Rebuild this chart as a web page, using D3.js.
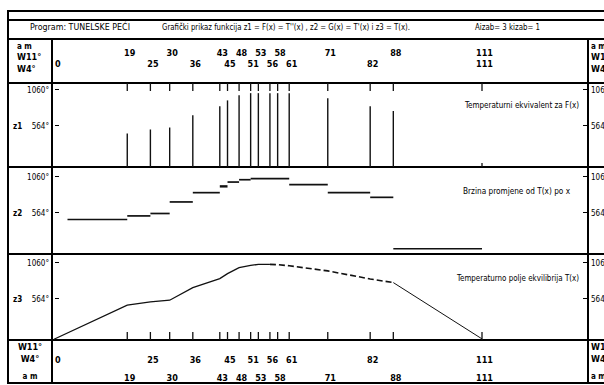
<!DOCTYPE html>
<html lang="hr">
<head>
<meta charset="utf-8">
<title>Program: TUNELSKE PEĆI</title>
<style>
  body { margin: 0; background: #fff; }
  svg { display: block; font-family: "Liberation Sans Narrow", "DejaVu Sans Condensed", "Liberation Sans", Arial, sans-serif; }
  .rule { stroke: #000; fill: none; shape-rendering: crispEdges; }
  .mark { stroke: #111; fill: none; }
  text { fill: #000; }
</style>
</head>
<body>
<div id="chart"></div>
<script src="https://cdn.jsdelivr.net/npm/d3@7"></script>
<script>
// stations along the tunnel (m)
var stations = [0, 19, 25, 30, 36, 43, 45, 48, 51, 53, 56, 58, 61, 71, 82, 88, 111];
// two rows of tick labels
var labelsAm = [19, 30, 43, 48, 53, 58, 71, 88, 111];
var labelsW4 = [0, 25, 36, 45, 51, 56, 61, 82, 111];

// z1 = F(x) = T''(x), bars at stations
var z1Stations = [19, 25, 30, 36, 43, 45, 48, 51, 53, 56, 58, 61, 71, 82, 88];
var z1Values   = [458, 513, 540, 707, 830, 911, 980, 1010, 1010, 1010, 1010, 1010, 939, 830, 766];

// z2 = G(x) = T'(x), steps
var z2From  = [3.5, 19, 25, 30, 36, 43, 45, 48, 51, 61, 71, 82, 88];
var z2To    = [19, 25, 30, 36, 43, 45, 48, 51, 61, 71, 82, 88, 111];
var z2Values = [472, 521, 554, 712, 839, 925, 984, 1016, 1030, 948, 839, 775, 72];

// z3 = T(x)
var z3Stations = [0, 19, 25, 30, 36, 43, 45, 48, 51, 53, 56, 58, 61, 71, 82, 88, 111];
var z3Values   = [10, 476, 521, 544, 717, 839, 907, 989, 1020, 1034, 1034, 1030, 1015, 945, 835, 785, 15];

var yTicks = [564, 1060];
var yTickText = ["564°", "1060°"];

var titles = ["Program: TUNELSKE PEĆI",
  "Grafički prikaz funkcija z1 = F(x) = T''(x) , z2 = G(x) = T'(x) i z3 = T(x).",
  "Aizab= 3 kizab= 1"];

var width = 604, height = 385;
var left = 8, divL = 52, divR = 588, right = 604;

var svg = d3.select("#chart").append("svg")
    .attr("width", width)
    .attr("height", height);

var x = d3.scaleLinear().domain([0, 111]).range([54, 482]);

var panels = [
  {name: "z1", top: 83, base: 167, text: "Temperaturni ekvivalent za F(x)", tx: 465, ty: 108, tw: 114},
  {name: "z2", top: 167, base: 254, text: "Brzina promjene od T(x) po x", tx: 463, ty: 194, tw: 107},
  {name: "z3", top: 254, base: 340, text: "Temperaturno polje ekvilibrija T(x)", tx: 457, ty: 281, tw: 122}
];
panels.forEach(function(p) {
  p.y = d3.scaleLinear().domain([0, 1060]).range([p.base, p.base - 77.5]);
});

// ---- frame
var hl = [[11, 2.5], [20, 1.5], [39, 1.5], [83, 2], [167, 1.5], [254, 1.5], [340, 2], [383, 2]];
svg.selectAll(".hrule").data(hl).enter().append("line")
    .attr("class", "rule")
    .attr("x1", left).attr("x2", right)
    .attr("y1", function(d) { return d[0]; })
    .attr("y2", function(d) { return d[0]; })
    .attr("stroke-width", function(d) { return d[1]; });

svg.append("line").attr("class", "rule").attr("stroke-width", 2.5)
    .attr("x1", left).attr("x2", left).attr("y1", 10).attr("y2", 384);
svg.append("line").attr("class", "rule").attr("stroke-width", 1.5)
    .attr("x1", divL).attr("x2", divL).attr("y1", 39).attr("y2", 383);
svg.append("line").attr("class", "rule").attr("stroke-width", 1.5)
    .attr("x1", divR).attr("x2", divR).attr("y1", 39).attr("y2", 383);

// ---- title row
svg.append("text").attr("x", 30).attr("y", 29.5).attr("font-size", 8.5)
    .attr("textLength", 100).attr("lengthAdjust", "spacingAndGlyphs").text(titles[0]);
svg.append("text").attr("x", 162).attr("y", 29.5).attr("font-size", 8.5)
    .attr("textLength", 248).attr("lengthAdjust", "spacingAndGlyphs").text(titles[1]);
svg.append("text").attr("x", 475).attr("y", 29.5).attr("font-size", 8.5)
    .attr("textLength", 65).attr("lengthAdjust", "spacingAndGlyphs").text(titles[2]);

// ---- side column labels
function side(xp, rows, anchor) {
  rows.forEach(function(r) {
    svg.append("text").attr("x", xp).attr("y", r[1])
        .attr("font-size", r[2] || 9).attr("font-weight", "bold")
        .attr("text-anchor", anchor).text(r[0]);
  });
}
side(17, [["a m", 49, 8], ["W11°", 60], ["W4°", 71.5]], "start");
side(591, [["a m", 49, 8], ["W11°", 60], ["W4°", 71.5]], "start");
side(30, [["W11°", 350], ["W4°", 361.5], ["a m", 379, 8]], "middle");
side(591, [["W11°", 350], ["W4°", 361.5], ["a m", 379, 8]], "start");

// ---- station labels, top and bottom
function numbers(vals, yy) {
  svg.append("g").selectAll("text").data(vals).enter().append("text")
      .attr("x", function(d) { return d === 0 ? x(d) + 1 : x(d) + 2.5; })
      .attr("y", yy)
      .attr("font-size", 9).attr("font-weight", "bold")
      .attr("text-anchor", function(d) { return d === 0 ? "start" : "middle"; })
      .text(function(d) { return d; });
}
numbers(labelsAm, 55.5);
numbers(labelsW4, 67);
numbers(labelsW4, 363);
numbers(labelsAm, 381);

// ---- panels
panels.forEach(function(p) {
  var g = svg.append("g").attr("class", p.name);
  yTicks.forEach(function(t, i) {
    g.append("line").attr("class", "rule").attr("stroke-width", 1)
        .attr("x1", divL + 3).attr("x2", divL + 7)
        .attr("y1", p.y(t)).attr("y2", p.y(t));
    g.append("line").attr("class", "rule").attr("stroke-width", 1)
        .attr("x1", divR - 5).attr("x2", divR - 1)
        .attr("y1", p.y(t)).attr("y2", p.y(t));
    g.append("text").attr("x", divL - 3).attr("y", p.y(t) + 3)
        .attr("font-size", 8).attr("text-anchor", "end").text(yTickText[i]);
    g.append("text").attr("x", divR + 3).attr("y", p.y(t) + 3)
        .attr("font-size", 8).text(yTickText[i]);
  });
  g.append("text").attr("x", 13).attr("y", p.y(564) + 3)
      .attr("font-size", 8).attr("font-weight", "bold").text(p.name);
  g.append("text").attr("x", p.tx).attr("y", p.ty)
      .attr("font-size", 8).attr("textLength", p.tw)
      .attr("lengthAdjust", "spacingAndGlyphs").text(p.text);
});

var p1 = panels[0], p2 = panels[1], p3 = panels[2];

// z1 top ticks and bars
svg.append("g").selectAll("line").data(stations.slice(1)).enter().append("line")
    .attr("class", "mark").attr("stroke-width", 1.3)
    .attr("x1", function(d) { return x(d); }).attr("x2", function(d) { return x(d); })
    .attr("y1", p1.top).attr("y2", p1.top + 8);
svg.append("line").attr("class", "mark").attr("stroke-width", 1.3)
    .attr("x1", x(111)).attr("x2", x(111)).attr("y1", p1.base - 4).attr("y2", p1.base);
svg.append("g").selectAll("line").data(z1Stations).enter().append("line")
    .attr("class", "mark").attr("stroke-width", 1.4)
    .attr("x1", function(d) { return x(d); }).attr("x2", function(d) { return x(d); })
    .attr("y1", p1.y(0))
    .attr("y2", function(d, i) { return p1.y(z1Values[i]); });

// z2 steps
svg.append("g").selectAll("line").data(z2Values).enter().append("line")
    .attr("class", "mark")
    .attr("stroke-width", function(d, i) { return i === 5 ? 2.4 : 1.7; })
    .attr("x1", function(d, i) { return x(z2From[i]); })
    .attr("x2", function(d, i) { return x(z2To[i]); })
    .attr("y1", function(d) { return p2.y(d); })
    .attr("y2", function(d) { return p2.y(d); });

// z3 bottom ticks and curve
svg.append("g").selectAll("line").data(stations.slice(1)).enter().append("line")
    .attr("class", "mark").attr("stroke-width", 1.3)
    .attr("x1", function(d) { return x(d); }).attr("x2", function(d) { return x(d); })
    .attr("y1", p3.base).attr("y2", p3.base - 8);

var pts = z3Stations.map(function(s, i) { return [s, z3Values[i]]; });
var line = d3.line()
    .x(function(d) { return x(d[0]); })
    .y(function(d) { return p3.y(d[1]); });
var i56 = z3Stations.indexOf(56), i88 = z3Stations.indexOf(88);
svg.append("path").attr("class", "mark").attr("stroke-width", 1.3)
    .attr("d", line(pts.slice(0, i56 + 1)));
svg.append("path").attr("class", "mark").attr("stroke-width", 1.6)
    .attr("stroke-dasharray", "6,3")
    .attr("d", line(pts.slice(i56, i88 + 1)));
svg.append("path").attr("class", "mark").attr("stroke-width", 1)
    .attr("d", line(pts.slice(i88)));
</script>
</body>
</html>
